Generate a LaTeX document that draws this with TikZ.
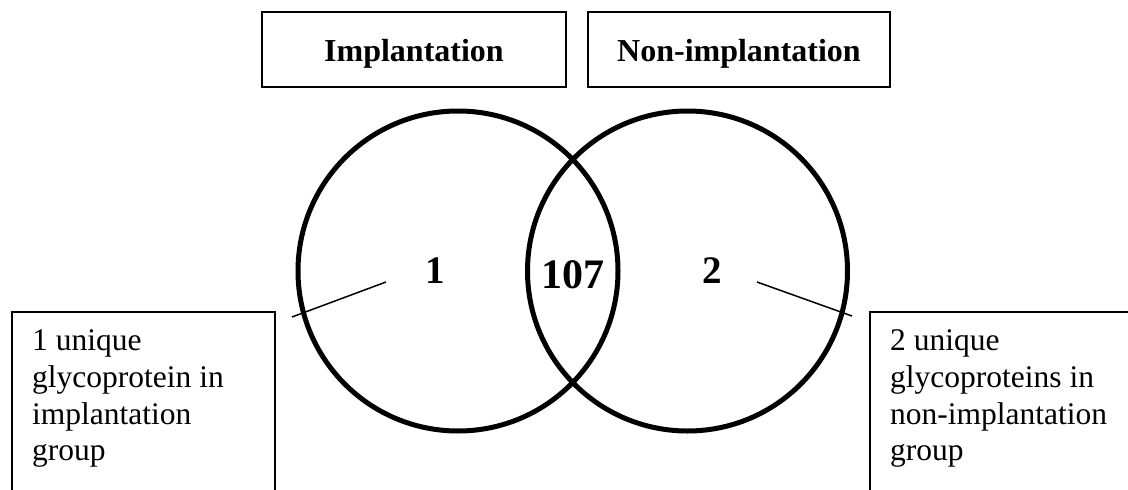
\documentclass[tikz,border=0pt]{standalone}
\usepackage{fontspec}
\setmainfont{Liberation Serif}
\begin{document}
\begin{tikzpicture}[x=1pt,y=-1pt,
  hdr/.style={draw, line width=1.6pt, minimum height=75pt, inner sep=0pt,
    text height=24pt, text depth=0pt, font=\bfseries\fontsize{32}{32}\selectfont},
  venn/.style={circle, draw, line width=5pt, minimum size=320pt, inner sep=0pt},
  num/.style={font=\bfseries\fontsize{39}{39}\selectfont, inner sep=0pt, anchor=base},
  bignum/.style={num, font=\bfseries\fontsize{42}{42}\selectfont},
  notebox/.style={draw, line width=1.6pt, minimum height=240pt, inner sep=0pt, anchor=north west},
  note/.style={align=left, font=\fontsize{31.5}{36.8}\selectfont, inner sep=0pt, anchor=north west},
  lead/.style={line width=1.5pt}]
\useasboundingbox (0,0) rectangle (1128,490);
\clip (0,0) rectangle (1128,490);
\fill[white] (0,0) rectangle (1128,490);
% header boxes
\node[hdr, minimum width=304pt] (impl) at (414,49.5) {Implantation};
\node[hdr, minimum width=302pt] (nonimpl) at (739,49.5) {Non-implantation};
% venn circles
\node[venn] (A) at (458,271) {};
\node[venn] (B) at (687.5,271) {};
% counts
\node[num] (nA) at (435,283) {1};
\node[bignum] (nAB) at (572.5,288) {107};
\node[num] (nB) at (712,283) {2};
% note boxes
\node[notebox, minimum width=263pt] (boxL) at (11,311) {};
\node[notebox, minimum width=280pt] (boxR) at (869,311) {};
\node[note] (txtL) at (32,329.5) {1 unique\\glycoprotein in\\implantation\\group};
\node[note] (txtR) at (890,329.5) {2 unique\\glycoproteins in\\non-implantation\\group};
% leader lines
\coordinate (lA1) at (386,282);
\coordinate (lA2) at (292,317);
\coordinate (lB1) at (757,282);
\coordinate (lB2) at (852,316);
\draw[lead] (lA1) -- (lA2);
\draw[lead] (lB1) -- (lB2);
\end{tikzpicture}
\end{document}
